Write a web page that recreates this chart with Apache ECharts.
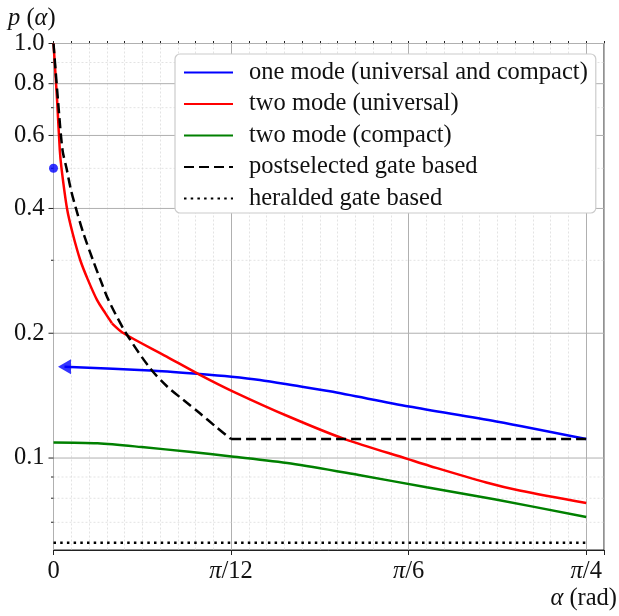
<!DOCTYPE html>
<html>
<head>
<meta charset="utf-8">
<script src="https://cdn.jsdelivr.net/npm/echarts@6/dist/echarts.min.js"></script>
<style>
  html, body { margin: 0; padding: 0; background: #fff; }
  #chart { width: 619px; height: 616px; }
</style>
</head>
<body>
<div id="chart"></div>
<script>
const PI = Math.PI;
const FONT = '"Liberation Serif", "DejaVu Serif", serif';

// values: alpha in rad, p(alpha)
const oneModeAlpha = [0.0162, 0.1422, 0.2158, 0.2625, 0.3042, 0.3533, 0.4074, 0.5242, 0.6529, 0.7854];
const oneModeP = [0.1660, 0.1626, 0.1594, 0.157, 0.1542, 0.1498, 0.1449, 0.1331, 0.1225, 0.1111];

// two mode (universal): steep branch up to the kink, then the slow branch
const twoModeUnivAlphaA = [0, 0.0053, 0.0093, 0.0118, 0.0199, 0.0283, 0.0395, 0.0508, 0.0641, 0.0763, 0.0862];
const twoModeUnivPA = [1.0, 0.73, 0.553, 0.50, 0.40, 0.348, 0.30, 0.269, 0.2407, 0.2236, 0.2114];
const twoModeUnivAlphaB = [0.0862, 0.1034, 0.1668, 0.2158, 0.2649, 0.3484, 0.4294, 0.5227, 0.5547, 0.638, 0.687, 0.7854];
const twoModeUnivPB = [0.2114, 0.20, 0.1757, 0.1588, 0.1447, 0.1256, 0.1111, 0.0994, 0.0957, 0.0873, 0.0835, 0.0779];

const twoModeCompAlpha = [0, 0.065, 0.13, 0.2, 0.2625, 0.35, 0.45, 0.55, 0.65, 0.7854];
const twoModeCompP = [0.109, 0.1085, 0.1063, 0.1035, 0.1009, 0.097, 0.091, 0.085, 0.0795, 0.0721];

// postselected: decreasing branch, then flat at 1/9
const postselAlphaA = [0, 0.0066, 0.0133, 0.0192, 0.0258, 0.0331, 0.0442, 0.0582, 0.0692, 0.081, 0.107, 0.1422, 0.1668, 0.1912, 0.2158, 0.2404, 0.2618];
const postselPA = [1.0, 0.73, 0.553, 0.50, 0.443, 0.40, 0.348, 0.30, 0.269, 0.2407, 0.20, 0.1648, 0.1492, 0.1382, 0.1282, 0.1186, 0.1111];
const postselAlphaB = [0.2618, 0.7854];
const postselPB = [0.1111, 0.1111];

const heraldedAlpha = [0, 0.7854];
const heraldedP = [0.0625, 0.0625];

// isolated one-mode point at alpha = 0 and the alpha -> 0+ limit marker
const oneModeDot = [0, 0.5];
const oneModeLimit = [0.0162, 0.1660];

const seriesNames = [
  'one mode (universal and compact)',
  'two mode (universal)',
  'two mode (compact)',
  'postselected gate based',
  'heralded gate based'
];

const xTickLabels = ['0', '{i|π}/12', '{i|π}/6', '{i|π}/4'];
const yMajorTicks = [0.1, 0.2, 0.4, 0.6, 0.8, 1.0];
const yTickLabels = ['0.1', '0.2', '0.4', '0.6', '0.8', '1.0'];
const yMinorTicks = [0.07, 0.08, 0.09, 0.3, 0.5, 0.7, 0.9];

const zip = (xs, ys) => xs.map((x, i) => [x, ys[i]]);

function yGrid(major) {
  return function (params, api) {
    const cs = params.coordSys;
    const y = api.coord([0, api.value(1)])[1];
    const children = [
      {
        type: 'line',
        shape: { x1: cs.x, y1: y, x2: cs.x + cs.width, y2: y },
        style: major
          ? { stroke: '#b0b0b0', lineWidth: 1 }
          : { stroke: '#dcdcdc', lineWidth: 0.8, lineDash: [2, 2] }
      },
      {
        type: 'line',
        shape: { x1: cs.x - (major ? 5 : 2.5), y1: y, x2: cs.x, y2: y },
        style: { stroke: '#222', lineWidth: 1 }
      }
    ];
    if (major) {
      children.push({
        type: 'text',
        style: {
          text: yTickLabels[params.dataIndex],
          x: cs.x - 9, y: y,
          align: 'right', verticalAlign: 'middle',
          fontFamily: FONT, fontSize: 24.5, fill: '#111'
        }
      });
    }
    return { type: 'group', children: children };
  };
}

const italic = { fontFamily: FONT, fontSize: 24.5, fontStyle: 'italic', color: '#111' };

function curve(name, data, color, dash, smooth) {
  return {
    type: 'line', name: name, data: data,
    symbol: 'none', showSymbol: false, z: 3,
    smooth: smooth || false,
    lineStyle: { color: color, width: 2.5, type: dash || 'solid' },
    itemStyle: { color: color }
  };
}

const chart = echarts.init(document.getElementById('chart'));

const option = {
  animation: false,
  backgroundColor: '#fff',
  textStyle: { fontFamily: FONT },
  grid: {
    left: 53.5, right: 15, top: 43.5, bottom: 66,
    show: true, borderColor: '#222', borderWidth: 1
  },
  legend: {
    data: seriesNames,
    orient: 'vertical',
    left: 175, top: 54,
    itemWidth: 49, itemHeight: 14, itemGap: 6.5,
    selectedMode: false,
    backgroundColor: '#fff',
    borderColor: '#cccccc', borderWidth: 1.2, borderRadius: 5,
    padding: [6, 8, 2, 8],
    itemStyle: { color: 'rgba(0,0,0,0)', borderWidth: 0, opacity: 0 },
    textStyle: { fontFamily: FONT, fontSize: 24.5, color: '#111', lineHeight: 24, padding: [0, 0, 0, 11] }
  },
  xAxis: [
    {
      type: 'value', min: 0, max: 31 * PI / 120, interval: PI / 12, z: 1,
      axisLine: { show: true, lineStyle: { color: '#222', width: 1 } },
      axisTick: { show: true, length: 5, lineStyle: { color: '#222' } },
      axisLabel: {
        margin: 9,
        fontFamily: FONT, fontSize: 24.5, color: '#111',
        formatter: function (v) {
          const k = Math.round(v / (PI / 12));
          if (Math.abs(v - k * PI / 12) > 1e-6 || k >= xTickLabels.length) return '';
          return xTickLabels[k];
        },
        rich: { i: italic }
      },
      splitLine: { show: true, lineStyle: { color: '#b0b0b0', width: 1 } }
    },
    {
      type: 'value', min: 0, max: 31 * PI / 120, interval: PI / 120, z: 0,
      axisLine: { show: false },
      axisTick: { show: true, length: 2.5, lineStyle: { color: '#222' } },
      axisLabel: { show: false },
      splitLine: {
        show: true,
        lineStyle: {
          color: ['rgba(0,0,0,0)', '#dcdcdc', '#dcdcdc', '#dcdcdc', '#dcdcdc', '#dcdcdc', '#dcdcdc', '#dcdcdc', '#dcdcdc', '#dcdcdc'],
          width: 0.8, type: [2, 2]
        }
      }
    }
  ],
  yAxis: {
    type: 'log', logBase: 10, min: 0.06, max: 1.0,
    axisLine: { show: true, lineStyle: { color: '#222' } },
    axisTick: { show: false },
    axisLabel: { show: false },
    splitLine: { show: false },
    minorTick: { show: false },
    minorSplitLine: { show: false }
  },
  graphic: [
    {
      type: 'text', left: 8, top: 6,
      style: {
        text: '{i|p} ({i|α})',
        fontFamily: FONT, fontSize: 24.5, fill: '#111',
        rich: { i: italic }
      }
    },
    {
      type: 'text', right: 2, top: 586,
      style: {
        text: '{i|α} (rad)',
        fontFamily: FONT, fontSize: 24.5, fill: '#111',
        rich: { i: italic }
      }
    }
  ],
  series: [
    {
      type: 'custom', name: 'yMajorGrid', z: 1, silent: true,
      renderItem: yGrid(true),
      data: yMajorTicks.map(v => [0, v])
    },
    {
      type: 'custom', name: 'yMinorGrid', z: 1, silent: true,
      renderItem: yGrid(false),
      data: yMinorTicks.map(v => [0, v])
    },
    curve(seriesNames[0], zip(oneModeAlpha, oneModeP), '#0000ff', null, 0.3),
    curve(seriesNames[1], zip(twoModeUnivAlphaA, twoModeUnivPA), '#ff0000', null, 0.3),
    curve(seriesNames[1], zip(twoModeUnivAlphaB, twoModeUnivPB), '#ff0000', null, 0.3),
    curve(seriesNames[2], zip(twoModeCompAlpha, twoModeCompP), '#008000', null, 0.3),
    curve(seriesNames[3], zip(postselAlphaA, postselPA), '#000000', [10, 5], 0.3),
    curve(seriesNames[3], zip(postselAlphaB, postselPB), '#000000', [10, 5]),
    curve(seriesNames[4], zip(heraldedAlpha, heraldedP), '#000000', [2.5, 4.2]),
    {
      type: 'scatter', name: 'one mode markers', z: 4, silent: true,
      itemStyle: { color: '#0000ff' },
      data: [
        { value: oneModeDot, symbol: 'circle', symbolSize: 9 },
        { value: oneModeLimit, symbol: 'triangle', symbolSize: [15, 13], symbolRotate: 90 }
      ]
    }
  ]
};

chart.setOption(option);
</script>
</body>
</html>
